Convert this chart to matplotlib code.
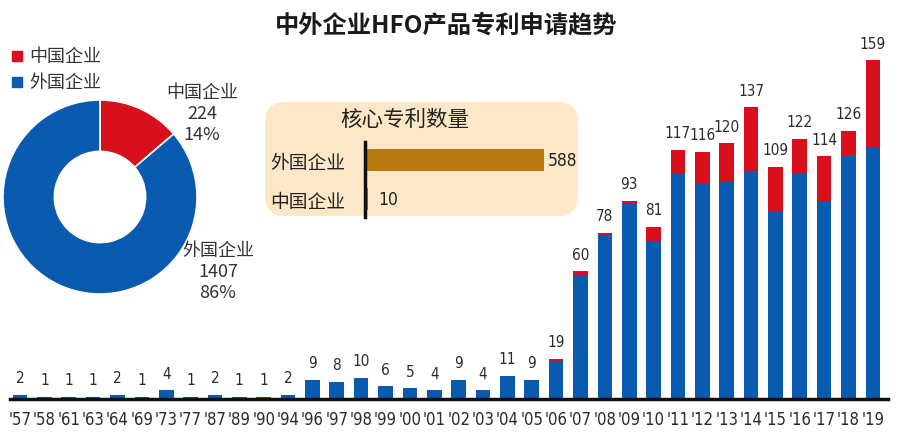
import matplotlib
matplotlib.use("Agg")
import matplotlib.pyplot as plt
from matplotlib.patches import FancyBboxPatch

# ---- data ----
years = ["'57", "'58", "'61", "'63", "'64", "'69", "'73", "'77", "'87", "'89", "'90", "'94",
         "'96", "'97", "'98", "'99", "'00", "'01", "'02", "'03", "'04", "'05", "'06", "'07",
         "'08", "'09", "'10", "'11", "'12", "'13", "'14", "'15", "'16", "'17", "'18", "'19"]
totals = [2, 1, 1, 1, 2, 1, 4, 1, 2, 1, 1, 2, 9, 8, 10, 6, 5, 4, 9, 4, 11, 9, 19, 60,
          78, 93, 81, 117, 116, 120, 137, 109, 122, 114, 126, 159]
china = [0, 0, 0, 0, 0, 0, 0, 0, 0, 0, 0, 0, 0, 0, 0, 0, 0, 0, 0, 0, 0, 0, 1, 2,
         1, 1, 7, 11, 15, 18, 30, 21, 16, 21, 12, 41]
foreign = [t - c for t, c in zip(totals, china)]

share_labels = ["中国企业", "外国企业"]
share_values = [224, 1407]
share_pct = ["14%", "86%"]

core_labels = ["中国企业", "外国企业"]
core_values = [10, 588]

RED = "#d80f1c"
BLUE = "#0a5bb0"
GOLD = "#b8790e"
BEIGE = "#fce8c8"

CJK = ["Noto Sans CJK SC", "DejaVu Sans"]
NUM = dict(family="DejaVu Sans", stretch="condensed")
plt.rcParams["font.family"] = CJK

W, H = 900, 439
fig = plt.figure(figsize=(W / 100, H / 100), dpi=100)


def px(x0, y0, x1, y1):
    """pixel box (top-left origin) -> figure fraction rect"""
    return [x0 / W, 1 - y1 / H, (x1 - x0) / W, (y1 - y0) / H]


fig.text(446 / W, 1 - 25 / H, "中外企业HFO产品专利申请趋势", ha="center", va="center",
         fontsize=17.5, fontweight="bold", color="#1a1a1a")

# ---- stacked bars ----
ax = fig.add_axes(px(10, 38, 888, 400))
x = range(len(years))
ax.bar(x, foreign, width=0.6, color=BLUE)
ax.bar(x, china, width=0.6, bottom=foreign, color=RED)
ax.set_xlim(-0.41, 35.62)
ax.set_ylim(0, 170)
for i, t in enumerate(totals):
    ax.annotate(str(t), (i, t), xytext=(0, 7), textcoords="offset points",
                ha="center", va="bottom", fontsize=11, color="#2a2a2a", **NUM)
ax.set_xticks(list(x))
ax.set_xticklabels(years, fontsize=12, color="#2a2a2a", **NUM)
ax.tick_params(axis="x", length=0, pad=8)
ax.set_yticks([])
for s in ["top", "left", "right"]:
    ax.spines[s].set_visible(False)
ax.spines["bottom"].set_linewidth(2.5)
ax.spines["bottom"].set_color("#111111")
ax.patch.set_alpha(0)

# ---- donut ----
axp = fig.add_axes(px(2, 100, 198, 296))
axp.pie(share_values, colors=[RED, BLUE], startangle=90, counterclock=False,
        wedgeprops=dict(width=0.53, edgecolor="white", linewidth=1.2))
axp.set_xlim(-1.01, 1.01)
axp.set_ylim(-1.01, 1.01)
axp.set_aspect("equal")

fig.text(202 / W, 1 - 114 / H, f"{share_labels[0]}\n{share_values[0]}\n{share_pct[0]}",
         ha="center", va="center", fontsize=13, color="#333333", linespacing=1.2)
fig.text(218 / W, 1 - 272 / H, f"{share_labels[1]}\n{share_values[1]}\n{share_pct[1]}",
         ha="center", va="center", fontsize=13, color="#333333", linespacing=1.2)

# legend
for k, (lab, col) in enumerate(zip(share_labels, [RED, BLUE])):
    yy = 57 + 26 * k
    fig.patches.append(plt.Rectangle((12 / W, 1 - (yy + 5) / H), 10 / W, 10 / H,
                                     transform=fig.transFigure, color=col))
    fig.text(29 / W, 1 - yy / H, lab, ha="left", va="center", fontsize=13, color="#333333")

# ---- core patents inset ----
box = FancyBboxPatch((2.79, 2.36), 2.85, 0.86,
                     boxstyle="round,pad=0.14,rounding_size=0.2",
                     transform=fig.dpi_scale_trans, facecolor=BEIGE, edgecolor="none",
                     zorder=-5)
fig.patches.append(box)
fig.text(405 / W, 1 - 120 / H, "核心专利数量", ha="center", va="center",
         fontsize=15.5, color="#222222")

axb = fig.add_axes(px(365, 143, 365 + 179, 218))
axb.barh(range(len(core_values)), core_values, height=0.56, color=GOLD)
axb.set_xlim(0, 588)
axb.set_ylim(-0.46, 1.46)
for i, v in enumerate(core_values):
    axb.annotate(str(v), (v, i), xytext=(3 if v > 100 else 7, 0), textcoords="offset points",
                 ha="left", va="center", fontsize=12.5, color="#222222", **NUM)
axb.set_yticks(range(len(core_labels)))
axb.set_yticklabels(core_labels, fontsize=13.5, color="#222222")
axb.tick_params(axis="y", length=0, pad=14)
axb.set_xticks([])
for s in ["top", "right", "bottom"]:
    axb.spines[s].set_visible(False)
axb.spines["left"].set_linewidth(2.5)
axb.spines["left"].set_color("#111111")
axb.patch.set_alpha(0)

fig.savefig("out.png", dpi=100)
